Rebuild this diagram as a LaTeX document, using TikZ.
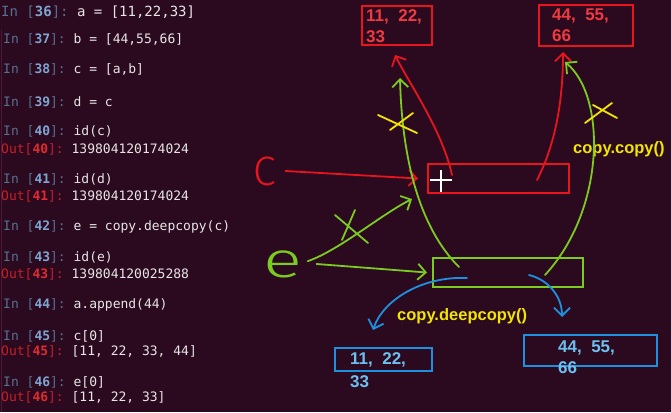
\documentclass[tikz,border=0pt]{standalone}
\usepackage{fontspec}
\setmonofont{DejaVu Sans Mono}
\setsansfont{Liberation Sans}
\newfontfamily\handfont{Fira Sans}[UprightFont={* Light}]
\usetikzlibrary{arrows.meta}
\definecolor{bgc}{HTML}{2B0A1F}
\definecolor{edgec}{HTML}{4A1A38}
\definecolor{promptc}{HTML}{56708F}
\definecolor{numc}{HTML}{7FA6D2}
\definecolor{outc}{HTML}{C81E28}
\definecolor{outnc}{HTML}{E02A30}
\definecolor{codec}{HTML}{E6E6E6}
\definecolor{redc}{HTML}{E8141E}
\definecolor{redtc}{HTML}{F03A40}
\definecolor{greenc}{HTML}{7CCB1F}
\definecolor{bluec}{HTML}{1E90E0}
\definecolor{bluetc}{HTML}{6CC0F0}
\definecolor{yellowc}{HTML}{F2E600}
\newcommand\inl[2]{{\color{promptc}In [}{\bfseries\color{numc}#1}{\color{promptc}]: }{\color{codec}#2}}
\newcommand\outl[2]{{\color{outc}Out[}{\bfseries\color{outnc}#1}{\color{outc}]: }{\color{codec}#2}}

\begin{document}
\begin{tikzpicture}[x=1pt, y=-1pt,
      term/.style={font=\ttfamily\fontsize{13}{15}\selectfont, inner sep=0pt, anchor=base west},
      hand/.style={line width=1.8pt, line cap=round, line join=round},
      arr/.style={hand, -{Straight Barb[length=8pt, width=16pt]}},
      rbox/.style={draw=redc, line width=1.8pt, inner sep=0pt, outer sep=0pt, anchor=north west},
      gbox/.style={draw=greenc, line width=1.8pt, inner sep=0pt, outer sep=0pt, anchor=north west},
      bbox/.style={draw=bluec, line width=1.8pt, inner sep=0pt, outer sep=0pt, anchor=north west},
      val/.style={font=\sffamily\bfseries\fontsize{17}{#1}\selectfont, align=left, inner sep=0pt,
                  anchor=north west},
      ytxt/.style={font=\sffamily\bfseries\fontsize{16.5}{18}\selectfont, text=yellowc, inner sep=0pt,
                   anchor=base west},
      letter/.style={font=\handfont\fontsize{41}{41}\selectfont, inner sep=0pt},
      xmark/.style={hand, yellowc}]
    \fill[bgc] (0,0) rectangle (671,412);
    \useasboundingbox (0,0) rectangle (671,412);
    \draw[edgec, line width=0.8pt] (1,30) -- (1,412);

    \node[term, font=\ttfamily\fontsize{14}{16}\selectfont] (l36) at (1,17) {\inl{36}{a = [11,22,33]}};
    \node[term] (l37) at (3,44)  {\inl{37}{b = [44,55,66]}};
    \node[term] (l38) at (3,74)  {\inl{38}{c = [a,b]}};
    \node[term] (l39) at (3,106) {\inl{39}{d = c}};
    \node[term] (l40) at (3,135) {\inl{40}{id(c)}};
    \node[term] (o40) at (1,153) {\outl{40}{139804120174024}};
    \node[term] (l41) at (3,183) {\inl{41}{id(d)}};
    \node[term] (o41) at (1,200) {\outl{41}{139804120174024}};
    \node[term] (l42) at (3,230) {\inl{42}{e = copy.deepcopy(c)}};
    \node[term] (l43) at (3,261) {\inl{43}{id(e)}};
    \node[term] (o43) at (1,278) {\outl{43}{139804120025288}};
    \node[term] (l44) at (3,308) {\inl{44}{a.append(44)}};
    \node[term] (l45) at (3,340) {\inl{45}{c[0]}};
    \node[term] (o45) at (1,355) {\outl{45}{[11, 22, 33, 44]}};
    \node[term] (l46) at (3,386) {\inl{46}{e[0]}};
    \node[term] (o46) at (1,401) {\outl{46}{[11, 22, 33]}};

    \node[rbox, minimum width=70pt, minimum height=39pt] (ra) at (362,6) {};
    \node[rbox, minimum width=94pt, minimum height=41pt] (rb) at (539,5) {};
    \node[rbox, minimum width=141pt, minimum height=29pt] (rc) at (428,164) {};
    \node[gbox, minimum width=150pt, minimum height=29pt] (gd) at (433,258) {};
    \node[bbox, minimum width=97pt, minimum height=23pt] (ba) at (335,348) {};
    \node[bbox, minimum width=133pt, minimum height=31pt] (bb) at (524,335) {};
    \node[val=21pt, text=redtc]  (rat) at ([shift={(4,3)}]ra.north west)  {11,~~22,\\33};
    \node[val=21pt, text=redtc]  (rbt) at ([shift={(13,4)}]rb.north west) {44,~~55,\\66};
    \node[val=23pt, text=bluetc] (bat) at ([shift={(15,4)}]ba.north west) {11,~~22,\\33};
    \node[val=21pt, text=bluetc] (bbt) at ([shift={(34,6)}]bb.north west) {44,~~55,\\66};

    \node[letter, text=redc] (cv) at (265,171) {\scalebox{1.0}[1]{C}};
    \node[letter, text=greenc, font=\handfont\fontsize{50}{50}\selectfont] (ev) at (283,264)
      {\scalebox{1.45}[1]{e}};
    \node[ytxt] (ccopy) at (573,153) {copy.copy()};
    \node[ytxt] (cdeep) at (397,320) {copy.deepcopy()};

    \draw[arr, redc] ([xshift=9pt]cv.east) -- ([xshift=-10pt]rc.west);
    \draw[arr, redc] ([shift={(24,11)}]rc.north west) .. controls +(-10,-45) and +(15,30)
      .. ([shift={(33,10)}]ra.south west);
    \draw[arr, redc] ([shift={(109,16)}]rc.north west) .. controls +(18,-35) and +(0,50)
      .. ([shift={(24,6)}]rb.south west);
    \draw[arr, greenc] ([shift={(26,9)}]gd.north west) .. controls +(-40,-40) and +(2,80)
      .. ([shift={(3,33)}]ra.south);
    \draw[arr, greenc] ([shift={(112,17)}]gd.north west) .. controls +(60,-65) and +(42,35)
      .. ([shift={(26,16)}]rb.south west);
    \draw[arr, greenc] ([xshift=14pt]ev.east) -- ([xshift=-6pt]gd.west);
    \draw[arr, greenc] ([shift={(5,11)}]ev.north east) .. controls +(30,-10) and +(-30,15)
      .. ([shift={(-16,6)}]rc.south west);
    \draw[arr, bluec] ([shift={(34,20)}]gd.north west) .. controls +(-45,-2) and +(10,-30)
      .. ([shift={(38,-18)}]ba.north west);
    \draw[arr, bluec] ([shift={(96,17)}]gd.north west) .. controls +(20,5) and +(0,-20)
      .. ([shift={(38,-18)}]bb.north west);

    \draw[xmark] (378,115) -- (417,133) (390,130) -- (413,113);
    \draw[xmark] (585,123) -- (612,103) (593,105) -- (617,118);
    \draw[hand, greenc] (335,215) -- (368,243) (355,210) -- (342,240);
    \draw[white, line width=1.3pt] (430,180) -- (452,180) (441,170) -- (441,192);
  \end{tikzpicture}
\end{document}
